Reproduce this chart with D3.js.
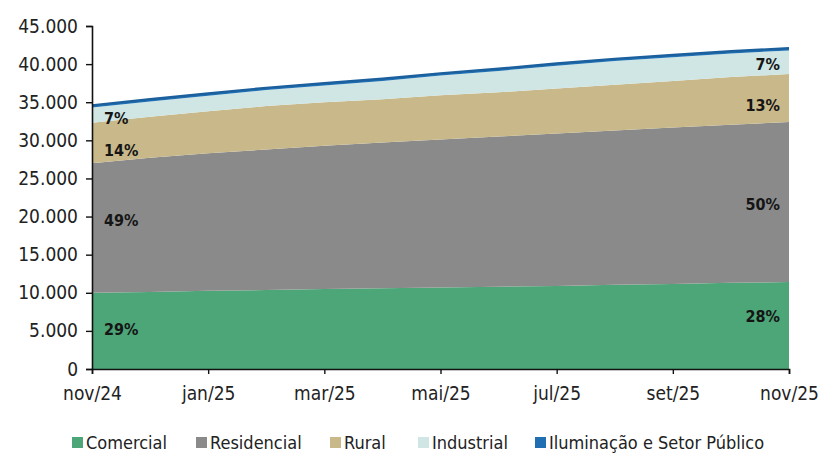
<!DOCTYPE html>
<html><head><meta charset="utf-8">
<script src="https://cdn.jsdelivr.net/npm/d3@7"></script>
<style>
html,body{margin:0;padding:0;background:#fff;}
svg{display:block;font-family:"DejaVu Sans Condensed","DejaVu Sans","Roboto",sans-serif;}
</style></head>
<body><svg id="c" width="832" height="455"></svg>
<script>
const months = ["nov/24","dez/24","jan/25","fev/25","mar/25","abr/25","mai/25","jun/25","jul/25","ago/25","set/25","out/25","nov/25"];
const tickMonths = ["nov/24","jan/25","mar/25","mai/25","jul/25","set/25","nov/25"];
const seriesNames = ["Comercial","Residencial","Rural","Industrial","Iluminação e Setor Público"];
const comercial   = [10.0,10.1,10.25,10.35,10.5,10.6,10.7,10.8,10.9,11.05,11.15,11.3,11.4];
const residencial = [17.0,17.6,18.05,18.45,18.8,19.1,19.4,19.7,20.0,20.25,20.55,20.75,21.0];
const rural       = [5.3,5.4,5.5,5.7,5.7,5.7,5.8,5.8,5.9,6.0,6.1,6.25,6.3];
const industrial  = [2.0,2.0,2.05,2.1,2.2,2.4,2.6,2.8,3.0,3.1,3.1,3.1,3.1];
const iluminacao  = [0.3,0.3,0.3,0.3,0.3,0.3,0.3,0.3,0.3,0.3,0.3,0.3,0.3];
const yTicks = [0,5,10,15,20,25,30,35,40,45];
const startPct = ["29%","49%","14%","7%"];
const endPct   = ["28%","50%","13%","7%"];
const colors = ["#4ca677","#8a8a8a","#c9b98a","#cfe6e4","#1f6fb2"];

const svg = d3.select("#c");
const m = {l:92, r:789, t:26, b:369};
const x = d3.scalePoint().domain(months).range([m.l, m.r]);
const y = d3.scaleLinear().domain([0,45]).range([m.b, m.t]);

const keys = ["c","r","ru","i","l"];
const data = months.map((mo,i)=>({m:mo,c:comercial[i],r:residencial[i],ru:rural[i],i:industrial[i],l:iluminacao[i]}));
const stacked = d3.stack().keys(keys)(data);
const area = d3.area().x(d=>x(d.data.m)).y0(d=>y(d[0])).y1(d=>y(d[1]));
svg.append("g").selectAll("path").data(stacked).join("path")
  .attr("d",area).attr("fill",(d,i)=>colors[i]);
// top line
const topSeries = stacked[4];
svg.append("path").datum(topSeries)
  .attr("d", d3.line().x(d=>x(d.data.m)).y(d=>y(d[1])))
  .attr("fill","none").attr("stroke","#1b5f9c").attr("stroke-width",2.2);

// percent labels
const startShift = [-1,-7,8,4];
const endShift = [-9,3,8,3];
const lab = svg.append("g").attr("font-weight","bold").attr("font-size",16).attr("fill","#151515");
for (let k=0;k<4;k++){
  const s = stacked[k];
  const a = s[0], b = s[s.length-1];
  lab.append("text").attr("x",104).attr("y",y((a[0]+a[1])/2)+5+startShift[k]).text(startPct[k]);
  lab.append("text").attr("x",780).attr("y",y((b[0]+b[1])/2)+5+endShift[k]).attr("text-anchor","end").text(endPct[k]);
}

// axes
const yAxis = d3.axisLeft(y).tickValues(yTicks).tickSize(6).tickPadding(8)
  .tickFormat(v=> v===0 ? "0" : v + ".000");
const gy = svg.append("g").attr("transform",`translate(${m.l},0)`).call(yAxis);
const gx = svg.append("g").attr("transform",`translate(0,${m.b})`)
  .call(d3.axisBottom(x).tickValues(tickMonths).tickSize(5).tickPadding(9));
[gy,gx].forEach(g=>{
  g.select(".domain").attr("stroke","#111").attr("stroke-width",1.6);
  g.selectAll(".tick line").attr("stroke","#111").attr("stroke-width",1.4);
  g.selectAll("text").attr("font-size",19).attr("fill","#222")
   .attr("font-family",'"DejaVu Sans Condensed","DejaVu Sans",sans-serif');
});
gx.selectAll("text").attr("dy","0.9em");

// legend
const legX = [72,196,330,418,535];
const leg = svg.append("g").attr("transform","translate(0,443)");
seriesNames.forEach((n,i)=>{
  leg.append("rect").attr("x",legX[i]).attr("y",-6).attr("width",11).attr("height",11).attr("fill",colors[i]);
  leg.append("text").attr("x",legX[i]+14).attr("y",6).attr("font-size",18).attr("fill","#222").text(n);
});
</script></body></html>
